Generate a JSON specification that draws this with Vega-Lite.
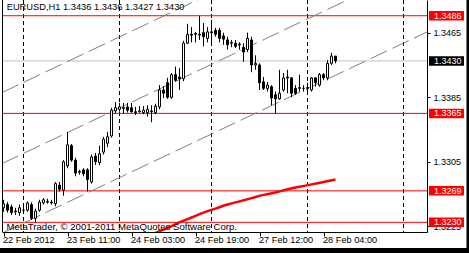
{
"$schema": "https://vega.github.io/schema/vega-lite/v6.json",
"width": 425, "height": 232,
"autosize": {"type": "none"},
"padding": {"left": 2, "top": 0, "right": 42, "bottom": 21},
"background": "white",
"config": {"view": {"stroke": null}, "font": "Liberation Sans",
  "axis": {"grid": false, "domainColor": "black", "tickColor": "black", "labelColor": "black", "labelFont": "Liberation Sans"}},
"datasets": {
"bars": [
{"i":0,"o":1.3248,"h":1.3258,"l":1.3243,"c":1.3253},
{"i":1,"o":1.3252,"h":1.3255,"l":1.3242,"c":1.3245},
{"i":2,"o":1.3249,"h":1.3252,"l":1.3239,"c":1.3242},
{"i":3,"o":1.3244,"h":1.3248,"l":1.3239,"c":1.3243},
{"i":4,"o":1.3242,"h":1.3252,"l":1.3238,"c":1.3248},
{"i":5,"o":1.3245,"h":1.3249,"l":1.3242,"c":1.3245},
{"i":6,"o":1.3245,"h":1.3256,"l":1.3243,"c":1.3254},
{"i":7,"o":1.3252,"h":1.3255,"l":1.3233,"c":1.3235},
{"i":8,"o":1.3235,"h":1.3247,"l":1.3230,"c":1.3244},
{"i":9,"o":1.3245,"h":1.3258,"l":1.3243,"c":1.3255},
{"i":10,"o":1.3254,"h":1.3260,"l":1.3252,"c":1.3258},
{"i":11,"o":1.3255,"h":1.3259,"l":1.3253,"c":1.3256},
{"i":12,"o":1.3254,"h":1.3258,"l":1.3252,"c":1.3255},
{"i":13,"o":1.3253,"h":1.3280,"l":1.3250,"c":1.3278},
{"i":14,"o":1.3276,"h":1.3280,"l":1.3268,"c":1.3271},
{"i":15,"o":1.3270,"h":1.3307,"l":1.3263,"c":1.3305},
{"i":16,"o":1.3300,"h":1.3342,"l":1.3297,"c":1.3326},
{"i":17,"o":1.3325,"h":1.3327,"l":1.3305,"c":1.3307},
{"i":18,"o":1.3307,"h":1.3310,"l":1.3287,"c":1.3291},
{"i":19,"o":1.3292,"h":1.3295,"l":1.3289,"c":1.3293},
{"i":20,"o":1.3295,"h":1.3297,"l":1.3287,"c":1.3290},
{"i":21,"o":1.3295,"h":1.3297,"l":1.3268,"c":1.3283},
{"i":22,"o":1.3280,"h":1.3314,"l":1.3278,"c":1.3311},
{"i":23,"o":1.3312,"h":1.3316,"l":1.3301,"c":1.3305},
{"i":24,"o":1.3304,"h":1.3325,"l":1.3301,"c":1.3315},
{"i":25,"o":1.3317,"h":1.3336,"l":1.3314,"c":1.3333},
{"i":26,"o":1.3328,"h":1.3342,"l":1.3323,"c":1.3336},
{"i":27,"o":1.3337,"h":1.3372,"l":1.3335,"c":1.3369},
{"i":28,"o":1.3368,"h":1.3379,"l":1.3365,"c":1.3372},
{"i":29,"o":1.3370,"h":1.3378,"l":1.3367,"c":1.3373},
{"i":30,"o":1.3372,"h":1.3378,"l":1.3365,"c":1.3371},
{"i":31,"o":1.3373,"h":1.3378,"l":1.3366,"c":1.3369},
{"i":32,"o":1.3372,"h":1.3378,"l":1.3366,"c":1.3367},
{"i":33,"o":1.3367,"h":1.3373,"l":1.3363,"c":1.3366},
{"i":34,"o":1.3367,"h":1.3374,"l":1.3366,"c":1.3368},
{"i":35,"o":1.3366,"h":1.3374,"l":1.3364,"c":1.3369},
{"i":36,"o":1.3366,"h":1.3375,"l":1.3361,"c":1.3370},
{"i":37,"o":1.3368,"h":1.3375,"l":1.3354,"c":1.3367},
{"i":38,"o":1.3366,"h":1.3377,"l":1.3364,"c":1.3374},
{"i":39,"o":1.3373,"h":1.3400,"l":1.3370,"c":1.3394},
{"i":40,"o":1.3394,"h":1.3399,"l":1.3384,"c":1.3390},
{"i":41,"o":1.3403,"h":1.3409,"l":1.3383,"c":1.3385},
{"i":42,"o":1.3385,"h":1.3415,"l":1.3383,"c":1.3413},
{"i":43,"o":1.3413,"h":1.3423,"l":1.3404,"c":1.3406},
{"i":44,"o":1.3410,"h":1.3421,"l":1.3394,"c":1.3408},
{"i":45,"o":1.3408,"h":1.3455,"l":1.3405,"c":1.3452},
{"i":46,"o":1.3452,"h":1.3476,"l":1.3451,"c":1.3463},
{"i":47,"o":1.3463,"h":1.3472,"l":1.3453,"c":1.3462},
{"i":48,"o":1.3463,"h":1.3466,"l":1.3453,"c":1.3464},
{"i":49,"o":1.3462,"h":1.3486,"l":1.3456,"c":1.3463},
{"i":50,"o":1.3465,"h":1.3477,"l":1.3448,"c":1.3460},
{"i":51,"o":1.3458,"h":1.3472,"l":1.3453,"c":1.3466},
{"i":52,"o":1.3466,"h":1.3481,"l":1.3452,"c":1.3465},
{"i":53,"o":1.3468,"h":1.3471,"l":1.3460,"c":1.3463},
{"i":54,"o":1.3468,"h":1.3471,"l":1.3453,"c":1.3458},
{"i":55,"o":1.3461,"h":1.3465,"l":1.3450,"c":1.3457},
{"i":56,"o":1.3456,"h":1.3460,"l":1.3444,"c":1.3450},
{"i":57,"o":1.3452,"h":1.3456,"l":1.3447,"c":1.3453},
{"i":58,"o":1.3452,"h":1.3456,"l":1.3446,"c":1.3448},
{"i":59,"o":1.3451,"h":1.3453,"l":1.3444,"c":1.3450},
{"i":60,"o":1.3447,"h":1.3452,"l":1.3429,"c":1.3441},
{"i":61,"o":1.3444,"h":1.3465,"l":1.3441,"c":1.3458},
{"i":62,"o":1.3456,"h":1.3460,"l":1.3416,"c":1.3425},
{"i":63,"o":1.3425,"h":1.3437,"l":1.3419,"c":1.3427},
{"i":64,"o":1.3425,"h":1.3427,"l":1.3394,"c":1.3403},
{"i":65,"o":1.3404,"h":1.3410,"l":1.3394,"c":1.3396},
{"i":66,"o":1.3396,"h":1.3404,"l":1.3392,"c":1.3400},
{"i":67,"o":1.3398,"h":1.3400,"l":1.3375,"c":1.3384},
{"i":68,"o":1.3388,"h":1.3392,"l":1.3365,"c":1.3383},
{"i":69,"o":1.3383,"h":1.3419,"l":1.3382,"c":1.3390},
{"i":70,"o":1.3394,"h":1.3415,"l":1.3392,"c":1.3409},
{"i":71,"o":1.3410,"h":1.3419,"l":1.3390,"c":1.3409},
{"i":72,"o":1.3409,"h":1.3410,"l":1.3385,"c":1.3390},
{"i":73,"o":1.3396,"h":1.3400,"l":1.3388,"c":1.3390},
{"i":74,"o":1.3396,"h":1.3413,"l":1.3392,"c":1.3397},
{"i":75,"o":1.3396,"h":1.3400,"l":1.3392,"c":1.3396},
{"i":76,"o":1.3396,"h":1.3403,"l":1.3388,"c":1.3397},
{"i":77,"o":1.3394,"h":1.3410,"l":1.3392,"c":1.3409},
{"i":78,"o":1.3409,"h":1.3410,"l":1.3398,"c":1.3403},
{"i":79,"o":1.3400,"h":1.3415,"l":1.3398,"c":1.3413},
{"i":80,"o":1.3413,"h":1.3415,"l":1.3406,"c":1.3409},
{"i":81,"o":1.3409,"h":1.3431,"l":1.3406,"c":1.3427},
{"i":82,"o":1.3427,"h":1.3440,"l":1.3425,"c":1.3436},
{"i":83,"o":1.3436,"h":1.3436,"l":1.3427,"c":1.3430}
],
"seps": [{"i":5},{"i":29},{"i":52},{"i":76},{"i":100}],
"levels": [{"p":1.3486,"k":"lvl"},{"p":1.3365,"k":"lvl"},{"p":1.3269,"k":"lvl"},{"p":1.3230,"k":"lvl"},{"p":1.3430,"k":"bid"}],
"chan": [
{"k":"A","i":-0.375,"p":1.33908},{"k":"A","i":105.875,"p":1.36402},
{"k":"B","i":-0.375,"p":1.33028},{"k":"B","i":105.875,"p":1.35522},
{"k":"C","i":-0.375,"p":1.32164},{"k":"C","i":105.875,"p":1.34659}
],
"ma": [
{"i":37,"p":1.3215},{"i":39,"p":1.3219},{"i":41,"p":1.3223},{"i":44,"p":1.3230},{"i":47,"p":1.3236},{"i":50,"p":1.3242},{"i":53,"p":1.3247},{"i":56,"p":1.3252},{"i":59,"p":1.3256},{"i":62,"p":1.3260},{"i":65,"p":1.3264},{"i":68,"p":1.3267},{"i":71,"p":1.3271},{"i":74,"p":1.3274},{"i":77,"p":1.3277},{"i":80,"p":1.3280},{"i":83,"p":1.3283}
],
"one": [{"t":"EURUSD,H1  1.3436 1.3436 1.3427 1.3430","w":"MetaTrader, © 2001-2011 MetaQuotes Software Corp."}]
},
"layer": [
{"data":{"name":"seps"},"mark":{"type":"rule","stroke":"black","strokeWidth":1,"strokeDash":[4,3]},
 "encoding":{"x":{"field":"i","type":"quantitative","scale":{"domain":[-0.375,105.875],"nice":false,"zero":false,"padding":0},
   "axis":{"title":null,"values":[0,16,32,48,64,80],"labelExpr":"datum.value==0?'22 Feb 2012':datum.value==16?'23 Feb 11:00':datum.value==32?'24 Feb 03:00':datum.value==48?'24 Feb 19:00':datum.value==64?'27 Feb 12:00':'28 Feb 04:00'","labelAlign":"left","labelBaseline":"top","labelPadding":-1,"tickSize":4,"labelFontSize":9.2,"labelOverlap":false,"labelFlush":false,"labelBound":false,"labelOffset":-1}}}},
{"data":{"name":"levels"},"mark":{"type":"rule","strokeWidth":1},
 "encoding":{"y":{"field":"p","type":"quantitative","scale":{"domain":[1.3218,1.35055],"nice":false,"zero":false,"padding":0},
   "axis":{"title":null,"orient":"right","values":[1.3225,1.3265,1.3305,1.3345,1.3385,1.3425,1.3465],"format":".4f","tickSize":3,"labelPadding":3,"labelFontSize":9,"labelOverlap":false,"labelFlush":false,"labelBound":false,"labelBaseline":"middle"}},
  "stroke":{"condition":{"test":"datum.k=='bid'","value":"#c0c0c0"},"value":"#ff0000"}}},
{"data":{"name":"chan"},"mark":{"type":"line","stroke":"#808080","strokeWidth":1,"strokeDash":[18,6],"clip":true},
 "encoding":{"x":{"field":"i","type":"quantitative"},"y":{"field":"p","type":"quantitative"},"detail":{"field":"k"}}},
{"data":{"name":"ma"},"mark":{"type":"line","stroke":"#ff0000","strokeWidth":2.5,"interpolate":"monotone","clip":true},
 "encoding":{"x":{"field":"i","type":"quantitative"},"y":{"field":"p","type":"quantitative"}}},
{"data":{"name":"bars"},"mark":{"type":"rule","stroke":"black","strokeWidth":1},
 "encoding":{"x":{"field":"i","type":"quantitative"},"y":{"field":"l","type":"quantitative"},"y2":{"field":"h"}}},
{"data":{"name":"bars"},"mark":{"type":"bar","width":2,"stroke":"black","strokeWidth":1,"orient":"vertical"},
 "encoding":{"x":{"field":"i","type":"quantitative"},"y":{"field":"o","type":"quantitative"},"y2":{"field":"c"},
  "fill":{"condition":{"test":"datum.c >= datum.o","value":"white"},"value":"black"}}},
{"data":{"name":"one"},"mark":{"type":"rule","stroke":"black","strokeWidth":1},
 "encoding":{"x":{"datum":-0.25}}},
{"data":{"name":"one"},"mark":{"type":"text","align":"left","baseline":"alphabetic","fontSize":9.3,"fill":"black"},
 "encoding":{"x":{"datum":0.8},"y":{"datum":1.34927},"text":{"field":"t"}}},
{"data":{"name":"one"},"mark":{"type":"text","align":"left","baseline":"alphabetic","fontSize":9.6,"fill":"black"},
 "encoding":{"x":{"datum":0.75},"y":{"datum":1.3220},"text":{"field":"w"}}},
{"data":{"name":"levels"},"mark":{"type":"bar","height":9.5,"orient":"horizontal"},
 "encoding":{"x":{"datum":106.375},"x2":{"datum":115.125},"y":{"field":"p","type":"quantitative"},
  "fill":{"condition":{"test":"datum.k=='bid'","value":"black"},"value":"#ff0000"}}},
{"data":{"name":"levels"},"mark":{"type":"text","align":"left","baseline":"middle","fontSize":9,"fill":"white"},
 "encoding":{"x":{"datum":107.6},"y":{"field":"p","type":"quantitative"},"text":{"field":"p","type":"quantitative","format":".4f"}}},
{"data":{"name":"one"},"mark":{"type":"rect","fill":"black"},
 "encoding":{"x":{"datum":115.75},"x2":{"datum":118},"y":{"datum":1.3506},"y2":{"datum":1.30}}},
{"data":{"name":"one"},"mark":{"type":"rect","fill":"black"},
 "encoding":{"x":{"datum":-1},"x2":{"datum":118},"y":{"datum":1.31982},"y2":{"datum":1.30}}}
]
}
